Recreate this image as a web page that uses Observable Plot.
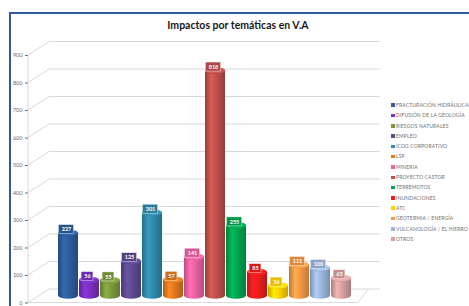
<!DOCTYPE html>
<html>
<head>
<meta charset="utf-8">
<script src="https://cdn.jsdelivr.net/npm/d3@7"></script>
<script src="https://cdn.jsdelivr.net/npm/@observablehq/plot@0.6"></script>
<style>
  html, body { margin: 0; padding: 0; background: #fff; overflow: hidden; }
  #wrap { position: relative; width: 469px; height: 306px; overflow: hidden; font-family: Lato, "Open Sans", sans-serif; }
  #frame { position: absolute; left: 9px; top: 12px; width: 480px; height: 320px; border-left: 2px solid #2f5b9a; border-top: 2px solid #2f5b9a; }
  #title { position: absolute; left: 0; width: 476px; top: 19px; text-align: center; font-weight: bold; font-size: 10.5px; color: #1a1a1a; }
  #chart { position: absolute; left: 0; top: 0; }
  #legend { position: absolute; left: 391px; top: 100px; white-space: nowrap; }
  .li { height: 10.3px; line-height: 10.3px; font-size: 5px; color: #707070; letter-spacing: 0.15px; }
  .sw { display: inline-block; width: 3.5px; height: 3.5px; margin-right: 1.5px; vertical-align: middle; position: relative; top: -0.5px; }
</style>
</head>
<body>
<div id="wrap">
  <div id="frame"></div>
  <div id="chart"></div>
  <div id="title">Impactos por temáticas en V.A</div>
  <div id="legend"></div>
</div>
<svg width="0" height="0" style="position:absolute"><defs id="grads"></defs></svg>
<script>
const categories = [
  "FRACTURACIÓN HIDRÁULICA",
  "DIFUSIÓN DE LA GEOLOGÍA",
  "RIESGOS NATURALES",
  "EMPLEO",
  "ICOG CORPORATIVO",
  "LSP",
  "MINERIA",
  "PROYECTO CASTOR",
  "TERREMOTOS",
  "INUNDACIONES",
  "ATC",
  "GEOTERMIA / ENERGÍA",
  "VULCANOLOGÍA / EL HIERRO",
  "OTROS"
];
const values = [227, 56, 55, 125, 301, 57, 141, 818, 255, 85, 36, 111, 100, 63];
const colors = [
  "#2d5e9c", "#7b2fc2", "#7a9b3c", "#5f4a92", "#2f8bab", "#e27a1e", "#ee62a2",
  "#c0504d", "#00a651", "#ee1d1d", "#ffd200", "#f59a45", "#9db7dd", "#d8a1a0"
];
const yTicks = [0, 100, 200, 300, 400, 500, 600, 700, 800, 900];

// gradients for cylinder look
const defs = document.getElementById("grads");
colors.forEach((c, i) => {
  const dark = d3.color(c).darker(0.7).formatHex();
  const light = d3.color(c).brighter(0.35).formatHex();
  const g = document.createElementNS("http://www.w3.org/2000/svg", "linearGradient");
  g.setAttribute("id", "g" + i);
  g.setAttribute("x1", "0"); g.setAttribute("x2", "1"); g.setAttribute("y1", "0"); g.setAttribute("y2", "0");
  [[0, dark], [0.3, light], [0.55, c], [1, dark]].forEach(([o, col]) => {
    const s = document.createElementNS("http://www.w3.org/2000/svg", "stop");
    s.setAttribute("offset", o); s.setAttribute("stop-color", col);
    g.appendChild(s);
  });
  defs.appendChild(g);
});

const data = categories.map((cat, i) => ({cat, value: values[i], i}));
const DX = 22, DY = -14, LIFT = -7, LABEL_DY = LIFT - 4, LABEL_DX = -2;

function bw(scales) {
  const b = scales.x.bandwidth;
  return typeof b === "function" ? b() : b;
}

// perspective pieces: axis line, diagonals, floor
function perspective(index, scales, values, dims) {
  const g = d3.create("svg:g");
  const y = scales.y;
  const x0 = dims.marginLeft;
  const xr = dims.width - dims.marginRight;
  g.append("line").attr("x1", x0).attr("x2", x0).attr("y1", y(0)).attr("y2", y(900))
    .attr("stroke", "#d0d0d0").attr("stroke-width", 0.8);
  for (const t of yTicks) {
    g.append("line").attr("x1", x0).attr("y1", y(t)).attr("x2", x0 + DX).attr("y2", y(t) + DY)
      .attr("stroke", "#d0d0d0").attr("stroke-width", 0.8);
  }
  g.append("path")
    .attr("d", `M${x0},${y(0)}L${xr},${y(0)}L${xr + DX * 0.5},${y(0) + DY}`)
    .attr("fill", "none").attr("stroke", "#d0d0d0").attr("stroke-width", 0.8);
  return g.node();
}

function ellipses(which) {
  return (index, scales, values, dims) => {
    const g = d3.create("svg:g");
    const w = bw(scales);
    for (const d of data) {
      const cx = scales.x(d.cat) + w / 2;
      const cy = scales.y(which === "top" ? d.value : 0) + LIFT;
      const c = d3.color(colors[d.i]);
      g.append("ellipse").attr("cx", cx).attr("cy", cy).attr("rx", w / 2).attr("ry", 3.2)
        .attr("fill", which === "top" ? c.brighter(0.25).formatHex() : `url(#g${d.i})`)
        .attr("stroke", which === "top" ? c.darker(0.4).formatHex() : "none")
        .attr("stroke-width", 0.4);
    }
    return g.node();
  };
}

// label boxes behind the value text
function labelBoxes(index, scales, values, dims) {
  const g = d3.create("svg:g");
  const w = bw(scales);
  for (const d of data) {
    const cx = scales.x(d.cat) + w / 2 + LABEL_DX;
    const cy = scales.y(d.value) + LABEL_DY;
    const bwid = String(d.value).length * 3.4 + 5;
    g.append("rect").attr("x", cx - bwid / 2).attr("y", cy - 4.5).attr("width", bwid).attr("height", 9)
      .attr("fill", d3.color(colors[d.i]).darker(0.3).formatHex())
      .attr("stroke", "rgba(255,255,255,0.7)").attr("stroke-width", 0.6);
  }
  return g.node();
}

const chart = Plot.plot({
  width: 469,
  height: 306,
  marginLeft: 28,
  marginRight: 111,
  marginTop: 40,
  marginBottom: 1,
  style: {background: "transparent", fontFamily: "Lato, sans-serif", color: "#6a6a6a"},
  x: {domain: categories, range: [53, 356], padding: 0.05, axis: null},
  y: {
    domain: [0, 900], range: [302.5, 55], ticks: yTicks, tickSize: 3, tickPadding: 3,
    label: null, tickFormat: d => String(d)
  },
  color: {type: "identity"},
  marks: [
    Plot.ruleY(yTicks, {dx: DX, dy: DY, stroke: "#d4d4d4", strokeWidth: 0.9}),
    perspective,
    ellipses("bottom"),
    Plot.barY(data, {x: "cat", y1: 0, y2: "value", dy: LIFT, fill: d => `url(#g${d.i})`}),
    ellipses("top"),
    labelBoxes,
    Plot.text(data, {
      x: "cat", y: "value", dy: LABEL_DY, dx: LABEL_DX,
      text: d => String(d.value),
      fill: "#ffffff",
      fontSize: 5.5, fontWeight: "bold"
    })
  ]
});
chart.style.fontSize = "5.5px";
document.getElementById("chart").appendChild(chart);

const legend = document.getElementById("legend");
categories.forEach((c, i) => {
  const row = document.createElement("div");
  row.className = "li";
  const sw = document.createElement("span");
  sw.className = "sw";
  sw.style.background = colors[i];
  row.appendChild(sw);
  row.appendChild(document.createTextNode(c));
  legend.appendChild(row);
});
</script>
</body>
</html>
